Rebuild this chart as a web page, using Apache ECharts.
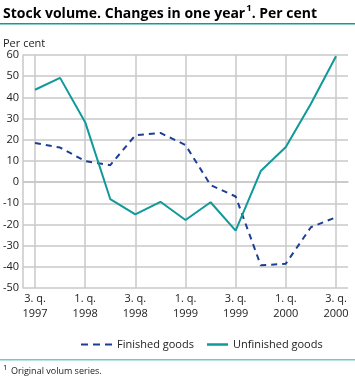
<!DOCTYPE html>
<html><head><meta charset="utf-8">
<script src="https://cdn.jsdelivr.net/npm/echarts@6/dist/echarts.min.js"></script>
<style>html,body{margin:0;padding:0;background:#fff}#c{width:355px;height:380px}</style>
</head><body><div id="c"></div>
<script>
const categories = ['3. q.\n1997','4. q.\n1997','1. q.\n1998','2. q.\n1998','3. q.\n1998','4. q.\n1998','1. q.\n1999','2. q.\n1999','3. q.\n1999','4. q.\n1999','1. q.\n2000','2. q.\n2000','3. q.\n2000'];
const finishedGoods = [18.5, 16.3, 9.9, 8.0, 22.1, 23.2, 17.5, -1.4, -6.8, -39.3, -38.5, -21.3, -16.6];
const unfinishedGoods = [43.6, 49.2, 28.3, -8.0, -15.2, -9.3, -17.9, -9.5, -22.9, 5.2, 16.6, 37.0, 59.4];
const yMin = -50, yMax = 60, yStep = 10;
const titleMain = 'Stock volume. Changes in one year';
const titleTail = '. Per cent';
const footnoteText = 'Original volum series.';
const yUnit = 'Per cent';

const font = '"Open Sans", "DejaVu Sans", sans-serif';
const grid = '#c8c8c8';
const blue = '#1c3f95', teal = '#10999a';
const chart = echarts.init(document.getElementById('c'), null, {renderer:'canvas'});
chart.setOption({
  animation: false,
  textStyle: {fontFamily: font},
  graphic: [
    {type:'text', left:3, top:3, style:{
      text:'{a|' + titleMain + '}{s|1}{a|' + titleTail + '}',
      rich:{
        a:{fontSize:14, fontWeight:'bold', fontFamily:font, color:'#000', verticalAlign:'bottom', lineHeight:18},
        s:{fontSize:9.5, fontWeight:'bold', fontFamily:font, color:'#000', verticalAlign:'top', padding:[0,0,8,1], lineHeight:18}
      }}},
    {type:'rect', shape:{x:0, y:23, width:355, height:1.5}, style:{fill:'#129a9a'}},
    {type:'text', left:3, top:38, style:{text:yUnit, font:'11px ' + font, fill:'#222'}},
    {type:'rect', shape:{x:0, y:359, width:355, height:1.5}, style:{fill:'#6acccc'}},
    {type:'text', left:3, top:364, style:{text:'1', font:'8px ' + font, fill:'#222'}},
    {type:'text', left:11, top:367, style:{text:footnoteText, font:'9px ' + font, fill:'#222'}}
  ],
  grid: [
    {left:23, right:7, top:55, bottom:92},
    {left:35, right:19, top:55, bottom:92}
  ],
  xAxis: [
    {type:'category', gridIndex:0, data:categories, show:true, axisLine:{show:true, lineStyle:{color:grid, width:1.5}}, axisTick:{show:false}, axisLabel:{show:false}, splitLine:{show:false}},
    {type:'category', gridIndex:1, data:categories, boundaryGap:false,
     axisLine:{show:false}, axisTick:{show:false},
     axisLabel:{interval:1, color:'#222', fontSize:11, lineHeight:15, margin:3, fontFamily:font},
     splitLine:{show:true, lineStyle:{color:grid, width:1.5}}}
  ],
  yAxis: [
    {type:'value', gridIndex:0, min:yMin, max:yMax, interval:yStep,
     axisLine:{show:true, lineStyle:{color:grid, width:1.5}}, axisTick:{show:false},
     axisLabel:{color:'#222', fontSize:11, margin:4, fontFamily:font},
     splitLine:{show:true, lineStyle:{color:grid, width:1.5}}},
    {type:'value', gridIndex:1, min:yMin, max:yMax, interval:yStep, show:false, splitLine:{show:false}}
  ],
  legend: [
    {left:76, top:334, itemWidth:31, itemHeight:2.5, itemGap:0,
     textStyle:{fontSize:11, color:'#222', fontFamily:font, padding:[0,0,0,0]},
     data:[{name:'Finished goods', icon:'path://M0,0h7v2h-7z M12,0h7v2h-7z M24,0h7v2h-7z'}]},
    {left:202, top:334, itemWidth:21, itemHeight:2.5, itemGap:0,
     textStyle:{fontSize:11, color:'#222', fontFamily:font, padding:[0,0,0,0]},
     data:[{name:'Unfinished goods', icon:'rect'}]}
  ],
  series: [
    {name:'Finished goods', type:'line', xAxisIndex:1, yAxisIndex:1, data:finishedGoods, symbol:'none',
     lineStyle:{color:blue, width:2, type:[6,5]}, itemStyle:{color:blue}},
    {name:'Unfinished goods', type:'line', xAxisIndex:1, yAxisIndex:1, data:unfinishedGoods, symbol:'none',
     lineStyle:{color:teal, width:2}, itemStyle:{color:teal}}
  ]
});
</script></body></html>
